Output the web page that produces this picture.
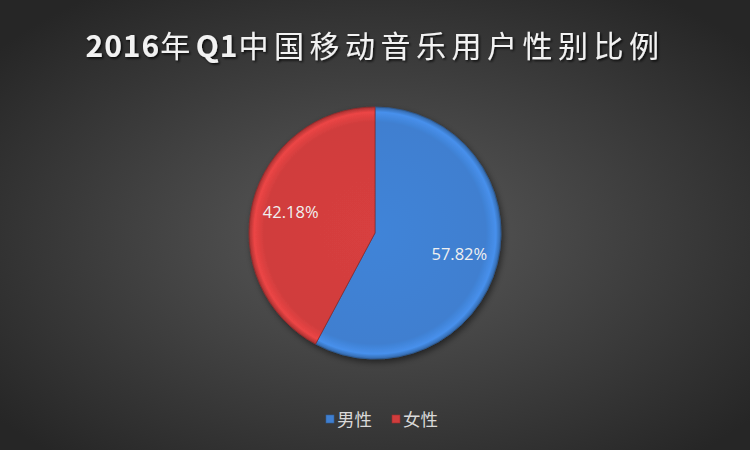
<!DOCTYPE html>
<html>
<head>
<meta charset="utf-8">
<script src="https://cdn.jsdelivr.net/npm/d3@7"></script>
<style>
  html, body { margin: 0; padding: 0; background: #333; }
  svg { display: block; }
</style>
</head>
<body>
<div id="pie-chart"></div>
<script>
const categories = ["男性", "女性"];
const values = [57.82, 42.18];
const sliceColors = ["#3f7fd0", "#d03d3d"];
// title split into runs: latin parts bold, CJK parts regular
const titleParts = ["2016", "年", "Q1", "中国移动音乐用户性别比例"];
const titleBold = [true, false, true, false];

const width = 750;
const height = 450;
const cx = 375;
const cy = 233;
const radius = 126;

const svg = d3
  .select("#pie-chart")
  .append("svg")
  .attr("width", width)
  .attr("height", height);

const defs = svg.append("defs");

// dark radial background
const bg = defs
  .append("radialGradient")
  .attr("id", "bg")
  .attr("cx", "50%")
  .attr("cy", "52%")
  .attr("r", "65%");
bg.append("stop").attr("offset", "0%").attr("stop-color", "#5b5b5b");
bg.append("stop").attr("offset", "100%").attr("stop-color", "#262626");

const shadow = defs.append("filter").attr("id", "shadow").attr("x", "-10%").attr("y", "-10%").attr("width", "130%").attr("height", "130%");
shadow
  .append("feDropShadow")
  .attr("dx", 1.5)
  .attr("dy", 1.5)
  .attr("stdDeviation", 1.2)
  .attr("flood-color", "#000")
  .attr("flood-opacity", 0.8);

const pieShadow = defs.append("filter").attr("id", "pieShadow").attr("x", "-20%").attr("y", "-20%").attr("width", "140%").attr("height", "140%");
pieShadow
  .append("feDropShadow")
  .attr("dx", 2)
  .attr("dy", 3)
  .attr("stdDeviation", 3)
  .attr("flood-color", "#000")
  .attr("flood-opacity", 0.5);

// bevel-ish gradients per slice
sliceColors.forEach((c, i) => {
  const g = defs
    .append("radialGradient")
    .attr("id", "slice" + i)
    .attr("gradientUnits", "userSpaceOnUse")
    .attr("cx", cx)
    .attr("cy", cy)
    .attr("r", radius);
  g.append("stop").attr("offset", "0%").attr("stop-color", d3.color(c).brighter(0.1));
  g.append("stop").attr("offset", "88%").attr("stop-color", c);
  g.append("stop").attr("offset", "96%").attr("stop-color", d3.color(c).brighter(0.35));
  g.append("stop").attr("offset", "100%").attr("stop-color", d3.color(c).darker(0.6));
});

svg
  .append("rect")
  .attr("width", width)
  .attr("height", height)
  .attr("fill", "url(#bg)");

const titleText = svg
  .append("text")
  .attr("x", width / 2)
  .attr("y", 57)
  .attr("text-anchor", "middle")
  .attr("fill", "#f2f2f2")
  .style("font-family", "'Noto Sans CJK SC', 'Noto Sans', sans-serif")
  .style("font-size", "30px")
  .attr("filter", "url(#shadow)");

titleText
  .selectAll("tspan")
  .data(titleParts)
  .enter()
  .append("tspan")
  .style("font-weight", (d, i) => (titleBold[i] ? "bold" : "normal"))
  .style("letter-spacing", (d, i) => (titleBold[i] ? "1px" : "5.5px"))
  .text(d => d);

const data = categories.map((name, i) => ({ name, value: values[i], color: sliceColors[i], idx: i }));

const pie = d3
  .pie()
  .sort(null)
  .value(d => d.value);

const arcs = pie(data);

const arcLabel = d3
  .arc()
  .innerRadius(radius * 0.69)
  .outerRadius(radius * 0.69);

const plotArea = svg
  .append("g")
  .attr("transform", `translate(${cx}, ${cy})`);

plotArea
  .append("g")
  .attr("filter", "url(#pieShadow)")
  .attr("transform", `translate(${-cx}, ${-cy})`)
  .selectAll("path")
  .data(arcs)
  .enter()
  .append("path")
  .attr("fill", d => `url(#slice${d.data.idx})`)
  .attr("d", d => {
    // absolute coords so the userSpace gradient lines up
    const p = d3.path();
    const a0 = d.startAngle - Math.PI / 2;
    const a1 = d.endAngle - Math.PI / 2;
    p.moveTo(cx, cy);
    p.arc(cx, cy, radius, a0, a1);
    p.closePath();
    return p.toString();
  })
  .attr("stroke", d => d3.color(d.data.color).darker(1))
  .attr("stroke-width", 0.8);

plotArea
  .selectAll("text")
  .data(arcs)
  .enter()
  .append("text")
  .attr("transform", d => `translate(${arcLabel.centroid(d)})`)
  .attr("text-anchor", "middle")
  .attr("dy", "0.35em")
  .attr("fill", "#f0f0f0")
  .style("font-family", "'Open Sans', 'Noto Sans', sans-serif")
  .style("font-size", "16.5px")
  .text(d => d.data.value.toFixed(2) + "%");

// legend
const legendX = d3
  .scalePoint()
  .domain(categories)
  .range([326, 392]);

const legend = svg
  .append("g")
  .selectAll("g")
  .data(data)
  .enter()
  .append("g")
  .attr("transform", d => `translate(${legendX(d.name)}, 420)`);

legend
  .append("rect")
  .attr("x", 0)
  .attr("y", -5)
  .attr("width", 8)
  .attr("height", 8)
  .attr("fill", d => d.color)
  .attr("stroke", d => d3.color(d.color).darker(0.8))
  .attr("stroke-width", 0.6);

legend
  .append("text")
  .attr("x", 11)
  .attr("y", 0)
  .attr("dy", "0.35em")
  .attr("fill", "#d9d9d9")
  .style("font-family", "'Noto Sans CJK SC', sans-serif")
  .style("font-size", "17.5px")
  .text(d => d.name);
</script>
</body>
</html>
